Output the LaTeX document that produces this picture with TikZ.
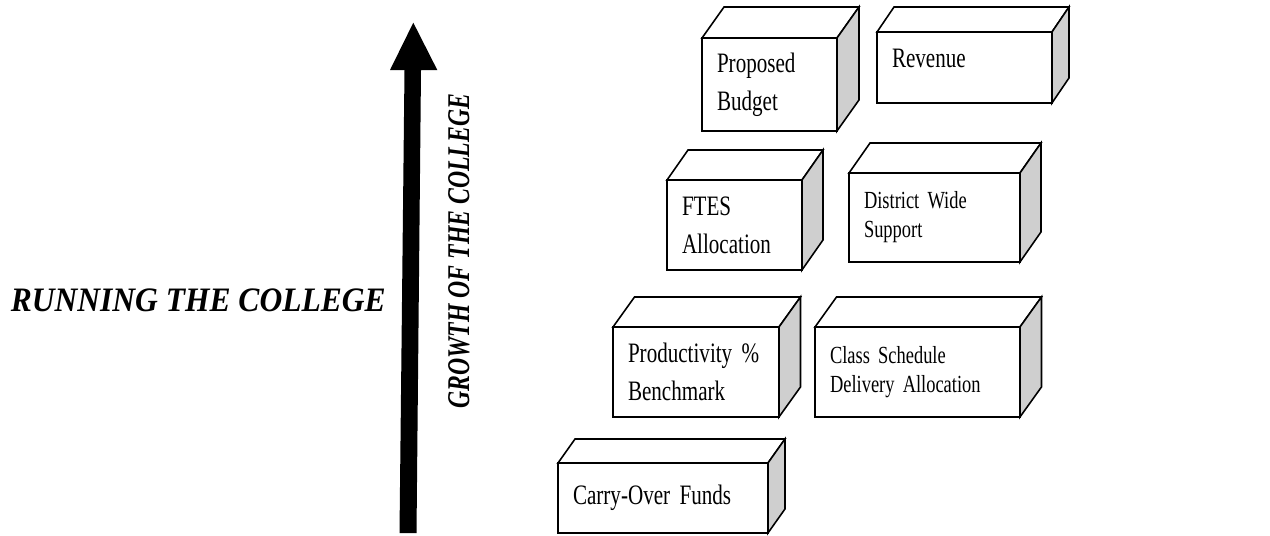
\documentclass[tikz,border=0pt]{standalone}
\usepackage{fontspec}
\setmainfont[FakeStretch=0.75]{Liberation Serif}
\newfontfamily\labelfont[FakeStretch=0.92]{Liberation Serif}
\usepackage{tikz}
\usetikzlibrary{calc}
\usetikzlibrary{positioning}
\definecolor{sidegray}{HTML}{CFCFCF}
\newcommand\tightsp{\spaceskip=0.15em\relax}

\begin{document}
\begin{tikzpicture}[x=0.02cm, y=-0.02cm]
\tikzstyle{cube}=[rectangle,draw,fill=white,line width=0.9pt,outer sep=0pt,anchor=north west,align=left,inner xsep=0.3cm,inner ysep=0pt,font=\fontsize{16}{21.5}\selectfont\tightsp]
\tikzstyle{smallcube}=[cube,font=\fontsize{14}{16.5}\selectfont\tightsp]
\tikzstyle{face}=[line width=0.9pt,line join=miter,fill=white]
\tikzstyle{heading}=[font=\bfseries\itshape,inner sep=0pt]
\useasboundingbox (0, 0) rectangle (1270, 535);

\node[cube, text width=2.1cm, minimum height=1.86cm] at(702, 38) (budget) {Proposed\\Budget};
\node[cube, text width=2.9cm, minimum height=1.42cm, text depth=11pt] at(877, 32) (revenue) {Revenue};
\node[cube, text width=2.1cm, minimum height=1.8cm] at(667, 180) (ftes) {FTES\\Allocation};
\node[smallcube, text width=2.82cm, minimum height=1.78cm] at(849, 173) (district) {District Wide\\Support};
\node[cube, text width=2.72cm, minimum height=1.8cm] at(613, 327) (prod) {Productivity \%\\Benchmark};
\node[smallcube, text width=3.5cm, minimum height=1.8cm] at(815, 327) (class) {Class Schedule\\Delivery Allocation};
\node[cube, text width=3.6cm, minimum height=1.4cm] at(558, 463) (carry) {Carry-Over Funds};

\foreach \b/\dx/\dy in {budget/22/31, revenue/17/25, ftes/21/30, district/21/30, prod/21.5/30, class/21.5/30, carry/17/24}{
  \draw[face] (\b.north west) -- ++(\dx, -\dy) -- ($(\b.north east)+(\dx, -\dy)$) -- (\b.north east) -- cycle;
  \draw[face, fill=sidegray] (\b.north east) -- ++(\dx, -\dy) -- ($(\b.south east)+(\dx, -\dy)$) -- (\b.south east) -- cycle;
}

\fill (399.5, 533) -- (404.5, 70) -- (390, 70) -- (413.3, 22.7) -- (437.3, 70) -- (421, 70) -- (416.5, 533) -- cycle;

\node[heading, anchor=base west, font=\labelfont\bfseries\itshape\fontsize{19.5}{22}\selectfont] at(10.5, 311.7) (running) {RUNNING THE COLLEGE};
\node[heading, rotate=90, font=\bfseries\itshape\fontsize{18}{20}\selectfont] at(459, 251) (growth) {GROWTH OF THE COLLEGE};
\end{tikzpicture}
\end{document}
